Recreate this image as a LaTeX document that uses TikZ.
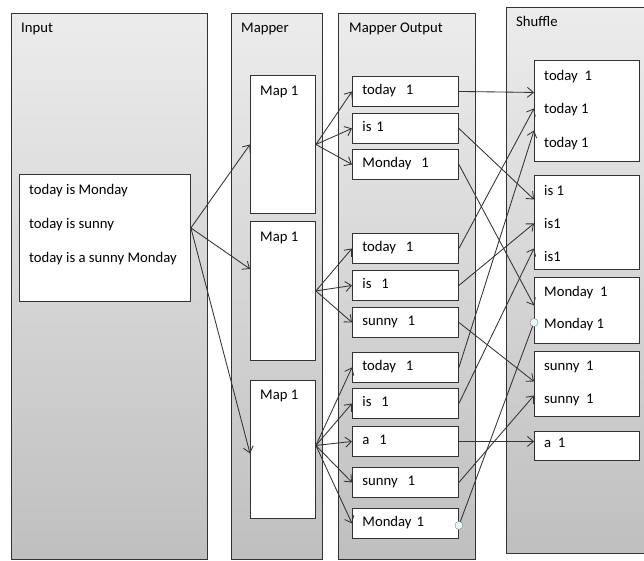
\documentclass[tikz,border=0pt]{standalone}
\usepackage{fontspec}
\setmainfont{Carlito}
\usetikzlibrary{arrows.meta,calc}
\tikzset{edge/.style = {-{Straight Barb[length=6pt,width=10pt]}, draw=black!80, line width=0.85pt}}
\tikzset{link/.style = {draw=black!80, line width=0.85pt}}
\tikzset{panel/.style = {draw=black!80, line width=0.9pt, top color=gray!15, bottom color=gray!50, anchor=north west, inner sep=0pt}}
\tikzset{box/.style = {draw=black!80, line width=0.9pt, fill=white, anchor=north west, inner sep=0pt}}
\tikzset{kv/.style = {box, inner xsep=10pt, text width=86pt, minimum width=106pt, minimum height=30pt, align=left, text height=10pt, text depth=3pt}}
\tikzset{txt/.style = {anchor=base west, inner sep=0pt}}
\tikzset{handle/.style = {circle, draw=gray, fill=cyan!8, inner sep=0pt, minimum size=8pt}}

\begin{document}
\begin{tikzpicture}[x=1pt, y=-1pt, font=\fontsize{14.7}{17}\selectfont]
                    \useasboundingbox (0,0) rectangle (644,560);

                    % the four columns
                    \node[panel, minimum width=196pt, minimum height=546pt] (inpanel) at (11,13) {};
                    \node[panel, minimum width=91pt, minimum height=546pt] (mappanel) at (231,13) {};
                    \node[panel, minimum width=137pt, minimum height=546pt] (outpanel) at (338,13) {};
                    \node[panel, minimum width=150pt, minimum height=546pt] (shufpanel) at (506,7) {};
                    \node[txt] (inlabel) at (21,32) {Input};
                    \node[txt] (maplabel) at (241,32) {Mapper};
                    \node[txt] (outlabel) at (349,32) {Mapper Output};
                    \node[txt] (shuflabel) at (516,26) {Shuffle};

                    % input lines
                    \node[box, minimum width=171pt, minimum height=127pt] (inbox) at (19,174) {};
                    \node[txt] (line1) at (29,194) {today is Monday};
                    \node[txt] (line2) at (29,228) {today is sunny};
                    \node[txt] (line3) at (29,262) {today is a sunny Monday};

                    % mappers
                    \node[box, minimum width=65pt, minimum height=138pt] (map1) at (250,75) {};
                    \node[box, minimum width=65pt, minimum height=139pt] (map2) at (250,221) {};
                    \node[box, minimum width=65pt, minimum height=138pt] (map3) at (250,380) {};
                    \foreach \m/\y in {1/95, 2/241, 3/399}
                        \node[txt] (maptext\m) at (260,\y) {Map 1};

                    % mapper output
                    \node[kv] (otoday1) at (352,76) {today\ \ 1};
                    \node[kv] (ois1) at (352,113) {is 1};
                    \node[kv] (omon1) at (352,149) {Monday\ \ 1};
                    \node[kv] (otoday2) at (352,233) {today\ \ 1};
                    \node[kv] (ois2) at (352,270) {is\ \ 1};
                    \node[kv] (osunny2) at (352,307) {sunny\ \ 1};
                    \node[kv] (otoday3) at (352,352) {today\ \ 1};
                    \node[kv] (ois3) at (352,388) {is\ \ 1};
                    \node[kv] (oa3) at (352,426) {a\ \ 1};
                    \node[kv] (osunny3) at (352,467) {sunny\ \ 1};
                    \node[kv] (omon3) at (352,508) {Monday 1};

                    % shuffle groups
                    \node[box, minimum width=105pt, minimum height=101pt] (stoday) at (534,60) {};
                    \node[box, minimum width=105pt, minimum height=94pt] (sis) at (534,175) {};
                    \node[box, minimum width=105pt, minimum height=66pt] (smon) at (534,277) {};
                    \node[box, minimum width=105pt, minimum height=65pt] (ssunny) at (534,351) {};
                    \node[box, minimum width=105pt, minimum height=29pt] (sa) at (534,431) {};
                    \node[txt] (st1) at (544,80) {today\ \ 1};
                    \node[txt] (st2) at (544,113) {today 1};
                    \node[txt] (st3) at (544,147) {today 1};
                    \node[txt] (si1) at (544,195) {is 1};
                    \node[txt] (si2) at (544,228) {is1};
                    \node[txt] (si3) at (544,261) {is1};
                    \node[txt] (sm1) at (544,296) {Monday\ \ 1};
                    \node[txt] (sm2) at (544,328) {Monday 1};
                    \node[txt] (ss1) at (544,370) {sunny\ \ 1};
                    \node[txt] (ss2) at (544,403) {sunny\ \ 1};
                    \node[txt] (sa1) at (544,447) {a\ \ 1};

                    % input to mappers
                    \draw[edge] ([yshift=10pt]inbox.east) -- (map1.west);
                    \draw[edge] ([yshift=10pt]inbox.east) -- ([yshift=22pt]map2.west);
                    \draw[edge] ([yshift=10pt]inbox.east) -- ([yshift=-4pt]map3.west);

                    % mappers to their output
                    \foreach \o in {otoday1,ois1,omon1}
                        \draw[edge] (map1.east) -- (\o.west);
                    \foreach \o in {otoday2,ois2,osunny2}
                        \draw[edge] (map2.east) -- (\o.west);
                    \foreach \o in {otoday3,ois3,oa3,osunny3,omon3}
                        \draw[edge] ([yshift=4pt]map3.east) -- (\o.west);

                    % output to shuffle
                    \foreach \o/\s/\d in {otoday1/stoday/18.5, ois1/sis/23, omon1/smon/5,
                                          otoday2/stoday/2.5, ois2/sis/-1, osunny2/ssunny/2.5,
                                          otoday3/stoday/-19.5, ois3/sis/-26, oa3/sa/4.5,
                                          osunny3/ssunny/-11.5}
                        \draw[edge] (\o.east) -- ([yshift=\d pt]\s.west);

                    % selected connector
                    \coordinate (mfrom) at ([yshift=-2pt]omon3.east);
                    \coordinate (mto) at ([yshift=-12pt]smon.west);
                    \draw[link] (mfrom) -- (mto);
                    \node[handle] (hfrom) at (mfrom) {};
                    \node[handle] (hto) at (mto) {};
\end{tikzpicture}
\end{document}
